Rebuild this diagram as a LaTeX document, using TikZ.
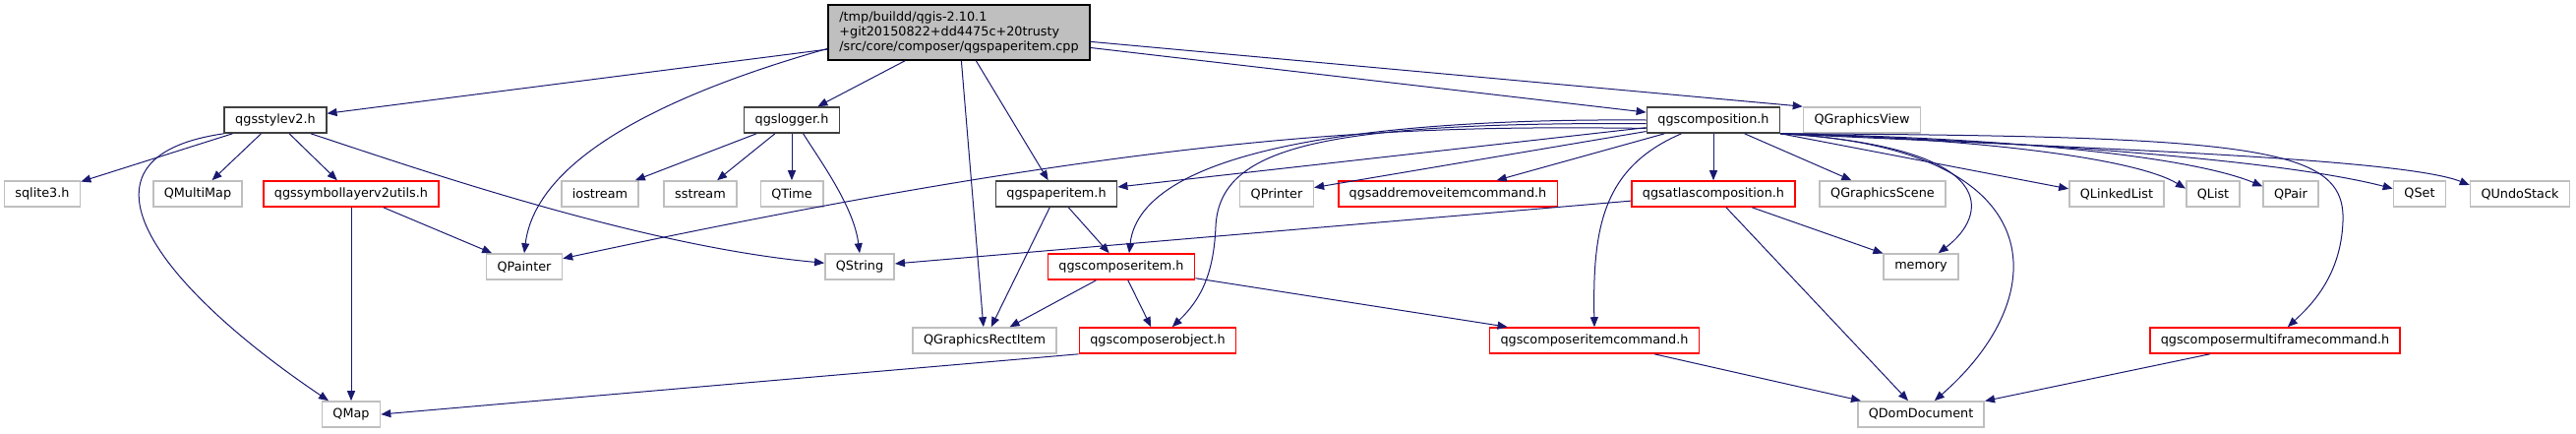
\documentclass[tikz,border=0pt]{standalone}
\usepackage{fontspec}
\setmainfont{DejaVu Sans}
\usetikzlibrary{arrows.meta}
\definecolor{incblue}{RGB}{25,25,112}
\definecolor{extgray}{RGB}{191,191,191}
\definecolor{docdark}{RGB}{64,64,64}
\definecolor{docred}{RGB}{255,0,0}
\tikzset{
  filebox/.style={draw,fill=white,line width=0.8pt,inner xsep=5.5pt,inner ysep=0pt,minimum height=13pt,text=black,font=\fontsize{6.4}{7.5}\selectfont},
  extfile/.style={filebox,draw=extgray},
  docfile/.style={filebox,draw=docdark},
  redfile/.style={filebox,draw=docred},
  srcfile/.style={filebox,draw=black,fill=extgray,align=left,minimum width=133pt,minimum height=28pt},
  inc/.style={draw=incblue,line width=0.5pt,-{Triangle[length=5pt,width=4pt]}}
}
\begin{document}
\begin{tikzpicture}[x=.5pt,y=-.5pt]
\path[use as bounding box] (0,0) rectangle (2619,440);
\node[srcfile] (main) at (975,33) {/tmp/buildd/qgis-2.10.1\\+git20150822+dd4475c+20trusty\\/src/core/composer/qgspaperitem.cpp};
\node[docfile] (stylev2) at (280,122) {qgsstylev2.h};
\node[docfile] (logger) at (805,122) {qgslogger.h};
\node[docfile] (composition) at (1742,122) {qgscomposition.h};
\node[extfile] (gview) at (1893,122) {QGraphicsView};
\node[extfile] (sqlite) at (43,197) {sqlite3.h};
\node[extfile] (multimap) at (201,197) {QMultiMap};
\node[redfile] (symutils) at (357,197) {qgssymbollayerv2utils.h};
\node[extfile] (iostream) at (610,197) {iostream};
\node[extfile] (sstream) at (712,197) {sstream};
\node[extfile] (qtime) at (805,197) {QTime};
\node[docfile] (paperitem) at (1074,197) {qgspaperitem.h};
\node[extfile] (qprinter) at (1298,197) {QPrinter};
\node[redfile] (addremove) at (1472,197) {qgsaddremoveitemcommand.h};
\node[redfile] (atlas) at (1742,197) {qgsatlascomposition.h};
\node[extfile] (gscene) at (1914,197) {QGraphicsScene};
\node[extfile] (linkedlist) at (2152,197) {QLinkedList};
\node[extfile] (qlist) at (2250,197) {QList};
\node[extfile] (qpair) at (2329,197) {QPair};
\node[extfile] (qset) at (2460,197) {QSet};
\node[extfile] (undostack) at (2562,197) {QUndoStack};
\node[extfile] (qpainter) at (533,271) {QPainter};
\node[extfile] (qstring) at (874,271) {QString};
\node[redfile] (composeritem) at (1140,271) {qgscomposeritem.h};
\node[extfile] (memory) at (1953,271) {memory};
\node[extfile] (rectitem) at (1001,346) {QGraphicsRectItem};
\node[redfile] (composerobject) at (1177,346) {qgscomposerobject.h};
\node[redfile] (itemcommand) at (1621,346) {qgscomposeritemcommand.h};
\node[redfile] (multiframe) at (2313,346) {qgscomposermultiframecommand.h};
\node[extfile] (qmap) at (357,421) {QMap};
\node[extfile] (qdom) at (1953,421) {QDomDocument};
% qgspaperitem.cpp
\draw[inc] (main) -- (stylev2);
\draw[inc] (main.187) .. controls (680,95) and (545,160) .. (qpainter.north);
\draw[inc] (main) -- (logger);
\draw[inc] (main) -- (rectitem);
\draw[inc] (main) -- (paperitem);
\draw[inc] (main) -- (composition);
\draw[inc] (main.356) -- (gview.north west);
% qgsstylev2.h
\draw[inc] (stylev2) -- (sqlite);
\draw[inc] (stylev2) -- (multimap);
\draw[inc] (stylev2) -- (symutils);
\draw[inc] (stylev2.south west) .. controls (60,160) and (160,290) .. (qmap.149);
\draw[inc] (stylev2.339) .. controls (420,170) and (650,250) .. (qstring.174);
\draw[inc] (symutils) -- (qpainter);
\draw[inc] (symutils) -- (qmap);
% qgslogger.h
\draw[inc] (logger) -- (iostream);
\draw[inc] (logger) -- (sstream);
\draw[inc] (logger) -- (qtime);
\draw[inc] (logger.310) .. controls (835,165) and (868,210) .. (qstring.north);
% qgspaperitem.h
\draw[inc] (paperitem) -- (composeritem);
\draw[inc] (paperitem) -- (rectitem);
\draw[inc] (composeritem) -- (rectitem);
\draw[inc] (composeritem) -- (composerobject);
\draw[inc] (composeritem) -- (itemcommand);
\draw[inc] (composerobject.south west) -- (qmap.east);
% qgscomposition.h
\draw[inc] (composition.187) .. controls (1450,128) and (1200,128) .. (qpainter.12);
\draw[inc] (composition) -- (paperitem);
\draw[inc] (composition.west) .. controls (1400,120) and (1160,150) .. (composeritem.60);
\draw[inc] (composition.183) .. controls (1340,124) and (1240,150) .. (1236,230) .. controls (1234,280) and (1220,305) .. (composerobject.43);
\draw[inc] (composition) -- (qprinter);
\draw[inc] (composition) -- (addremove);
\draw[inc] (composition.203) .. controls (1630,170) and (1619,230) .. (itemcommand.north);
\draw[inc] (composition) -- (atlas);
\draw[inc] (composition) -- (gscene);
\draw[inc] (composition.south east) .. controls (2040,150) and (2020,220) .. (memory.38);
\draw[inc] (composition.south east) .. controls (2090,150) and (2090,300) .. (qdom.45);
\draw[inc] (composition.south east) -- (linkedlist.174);
\draw[inc] (composition.south east) .. controls (2000,140) and (2170,160) .. (qlist.169);
\draw[inc] (composition.south east) .. controls (2050,140) and (2230,160) .. (qpair.165);
\draw[inc] (composition.south east) .. controls (2100,145) and (2330,165) .. (qset.169);
\draw[inc] (composition.south east) .. controls (2100,150) and (2440,160) .. (undostack.170);
\draw[inc] (composition.south east) .. controls (2300,138) and (2385,150) .. (2382,225) .. controls (2380,280) and (2350,310) .. (multiframe.47);
% qgsatlascomposition.h
\draw[inc] (atlas) -- (qstring);
\draw[inc] (atlas) -- (memory);
\draw[inc] (atlas) -- (qdom);
\draw[inc] (itemcommand) -- (qdom);
\draw[inc] (multiframe) -- (qdom);
\end{tikzpicture}
\end{document}
